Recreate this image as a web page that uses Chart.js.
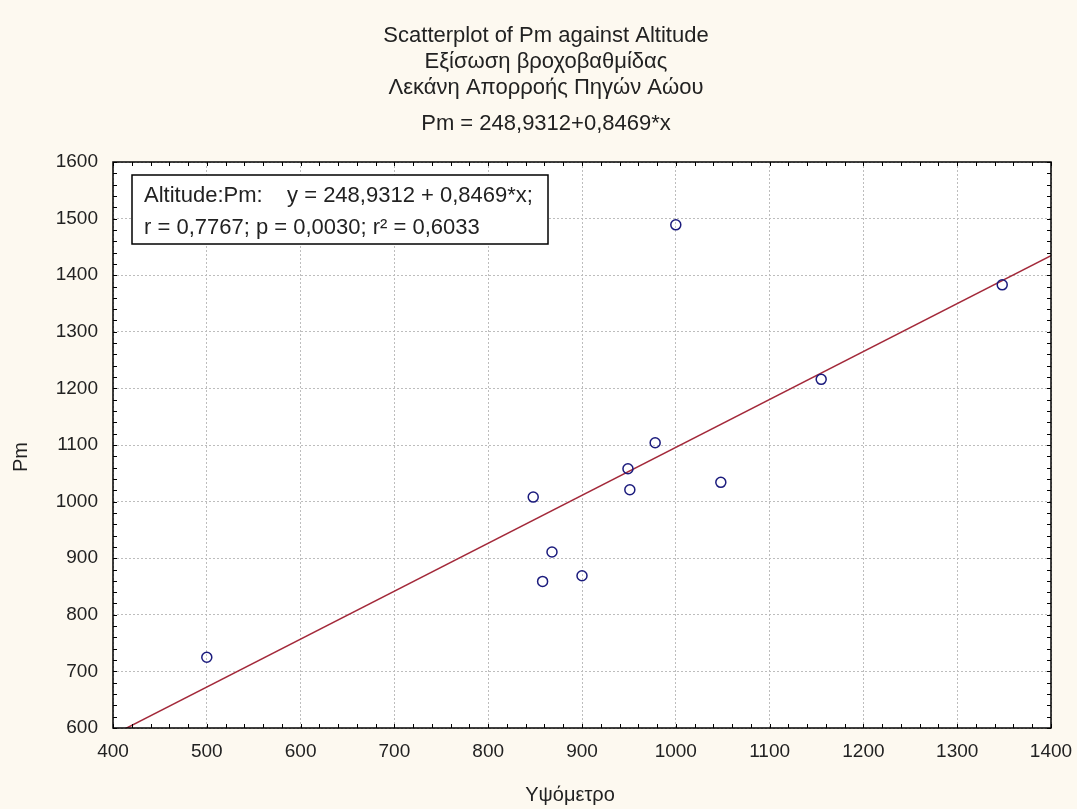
<!DOCTYPE html>
<html>
<head>
<meta charset="utf-8">
<script src="https://cdn.jsdelivr.net/npm/chart.js@4.4.1/dist/chart.umd.min.js"></script>
<style>
  html, body { margin: 0; padding: 0; background: #fdf9f0; }
  #wrap { width: 1077px; height: 809px; }
</style>
</head>
<body>
<div id="wrap"><canvas id="c" width="1077" height="809"></canvas></div>
<script>
// Station altitude (m) and mean annual precipitation Pm (mm)
const altitude = [500, 848, 858, 868, 900, 949, 951, 978, 1000, 1048, 1155, 1348];
const pm = [725, 1008, 859, 911, 869, 1058, 1021, 1104, 1489, 1034, 1216, 1383];

// Fitted regression Pm = a + b * altitude
const intercept = 248.9312;
const slope = 0.8469;
const fitRange = [400, 1400];

const titleLines = [
  'Scatterplot of Pm against Altitude',
  'Εξίσωση βροχοβαθμίδας',
  'Λεκάνη Απορροής Πηγών Αώου'
];
const subtitleLine = 'Pm = 248,9312+0,8469*x';
const statLines = [
  'Altitude:Pm:    y = 248,9312 + 0,8469*x;',
  'r = 0,7767; p = 0,0030; r² = 0,6033'
];
const xTitle = 'Υψόμετρο';
const yTitle = 'Pm';

const FONT = '"Liberation Sans", Arial, sans-serif';
const TEXT = '#222222';

const points = altitude.map((x, i) => ({ x: x, y: pm[i] }));
const fitLine = fitRange.map(x => ({ x: x, y: intercept + slope * x }));

// Background, frame, inward ticks and text annotations
const decor = {
  id: 'decor',
  beforeDraw(chart) {
    const { ctx, chartArea: a } = chart;
    ctx.save();
    ctx.fillStyle = '#fdf9f0';
    ctx.fillRect(0, 0, chart.width, chart.height);
    ctx.fillStyle = '#ffffff';
    ctx.fillRect(a.left, a.top, a.right - a.left, a.bottom - a.top);
    ctx.restore();
  },
  afterDraw(chart) {
    const { ctx, chartArea: a, scales } = chart;
    const xs = scales.x, ys = scales.y;
    ctx.save();
    // frame
    ctx.strokeStyle = '#000000';
    ctx.lineWidth = 1.5;
    ctx.strokeRect(a.left, a.top, a.right - a.left, a.bottom - a.top);
    // inward ticks every 20 units on all four sides
    ctx.lineWidth = 1;
    ctx.beginPath();
    for (let v = xs.min; v <= xs.max + 1e-6; v += 20) {
      const px = Math.round(xs.getPixelForValue(v)) + 0.5;
      ctx.moveTo(px, a.bottom); ctx.lineTo(px, a.bottom - 4);
      ctx.moveTo(px, a.top); ctx.lineTo(px, a.top + 4);
    }
    for (let v = ys.min; v <= ys.max + 1e-6; v += 20) {
      const py = Math.round(ys.getPixelForValue(v)) + 0.5;
      ctx.moveTo(a.left, py); ctx.lineTo(a.left + 4, py);
      ctx.moveTo(a.right, py); ctx.lineTo(a.right - 4, py);
    }
    ctx.stroke();

    // titles
    ctx.fillStyle = TEXT;
    ctx.textAlign = 'center';
    ctx.textBaseline = 'middle';
    ctx.font = '22px ' + FONT;
    const cx = 546;
    ctx.fillText(titleLines[0], cx, 36);
    ctx.fillText(titleLines[1], cx, 62);
    ctx.fillText(titleLines[2], cx, 88);
    ctx.fillText(subtitleLine, cx, 124);

    // axis titles
    ctx.font = '20px ' + FONT;
    ctx.fillText(xTitle, 570, 795);
    ctx.save();
    ctx.translate(21, 457);
    ctx.rotate(-Math.PI / 2);
    ctx.fillText(yTitle, 0, 0);
    ctx.restore();

    // regression statistics box
    const bx = 132, by = 175, bw = 416, bh = 69;
    ctx.fillStyle = '#ffffff';
    ctx.fillRect(bx, by, bw, bh);
    ctx.strokeStyle = '#000000';
    ctx.lineWidth = 1.5;
    ctx.strokeRect(bx, by, bw, bh);
    ctx.fillStyle = TEXT;
    ctx.textAlign = 'left';
    ctx.textBaseline = 'alphabetic';
    ctx.font = '22px ' + FONT;
    ctx.fillText(statLines[0], 144, 202);
    ctx.fillText(statLines[1], 144, 234);
    ctx.restore();
  }
};

const plainTick = v => String(v);

new Chart(document.getElementById('c'), {
  type: 'scatter',
  data: {
    datasets: [
      {
        type: 'line',
        label: 'fit',
        data: fitLine,
        borderColor: '#a3293a',
        borderWidth: 1.5,
        pointRadius: 0,
        fill: false,
        order: 2
      },
      {
        label: 'Pm',
        data: points,
        pointStyle: 'circle',
        pointRadius: 5,
        pointBorderWidth: 1.5,
        borderColor: '#1b1b7d',
        backgroundColor: 'rgba(0,0,0,0)',
        order: 1
      }
    ]
  },
  options: {
    responsive: false,
    animation: false,
    devicePixelRatio: 1,
    layout: { padding: { top: 162, right: 26, left: 0, bottom: 0 } },
    plugins: {
      legend: { display: false },
      tooltip: { enabled: false },
      title: { display: false }
    },
    scales: {
      x: {
        type: 'linear',
        min: 400,
        max: 1400,
        afterFit(s) { s.height = 81; s.paddingLeft = 0; s.paddingRight = 0; },
        ticks: { stepSize: 100, color: TEXT, font: { size: 19, family: FONT }, padding: 12, callback: plainTick },
        grid: { color: '#bdbdbd', lineWidth: 1, drawTicks: false },
        border: { display: false, dash: [2, 2] }
      },
      y: {
        type: 'linear',
        min: 600,
        max: 1600,
        afterFit(s) { s.width = 113; s.paddingTop = 0; s.paddingBottom = 0; },
        ticks: { stepSize: 100, color: TEXT, font: { size: 19, family: FONT }, padding: 15, callback: plainTick },
        grid: { color: '#bdbdbd', lineWidth: 1, drawTicks: false },
        border: { display: false, dash: [2, 2] }
      }
    }
  },
  plugins: [decor]
});
</script>
</body>
</html>
